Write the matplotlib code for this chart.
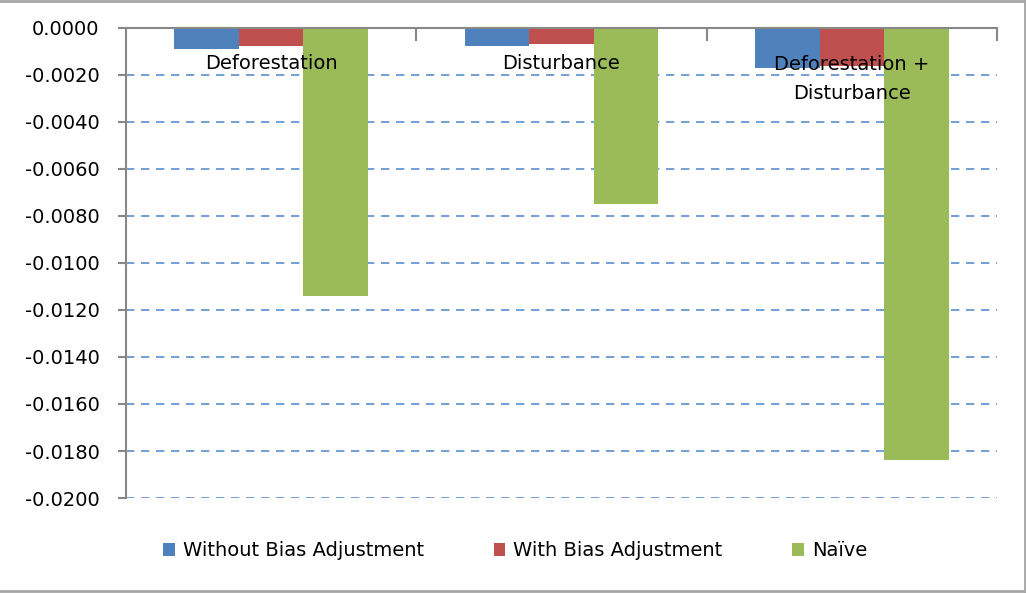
import numpy as np
import matplotlib.pyplot as plt
from matplotlib.lines import Line2D
from matplotlib.ticker import FuncFormatter

# values
categories = ["Deforestation", "Disturbance", "Deforestation +\nDisturbance"]
series_names = ["Without Bias Adjustment", "With Bias Adjustment", "Naïve"]
without_bias = [-0.0009, -0.00075, -0.0017]
with_bias = [-0.00075, -0.00067, -0.0016]
naive = [-0.0114, -0.0075, -0.0184]
colors = ["#4F81BD", "#C0504D", "#9BBB59"]
yticks = np.arange(-0.02, 0.0001, 0.002)

fig = plt.figure(figsize=(10.26, 5.93), dpi=100)
ax = fig.add_axes([0.1228, 0.1602, 0.8489, 0.7926])

x = np.arange(len(categories))
w = 1 / 4.5  # excel gap width 150%
for i, (vals, name) in enumerate(zip([without_bias, with_bias, naive], series_names)):
    ax.bar(x + (i - 1) * w, vals, w, color=colors[i], label=name, zorder=3)

ax.set_xlim(-0.5, 2.5)
ax.set_ylim(-0.02, 0)
ax.set_yticks(yticks)
ax.yaxis.set_major_formatter(FuncFormatter(lambda v, p: f"{v:.4f}" if abs(v) > 1e-9 else "0.0000"))
ax.tick_params(axis="y", direction="out", length=6, color="#888888", width=1.5,
               labelsize=14, pad=13)

# dashed gridlines (the zero line is the category axis)
for t in yticks[:-1]:
    ax.axhline(t, color="#5B8FD0", lw=1.2, ls=(0, (5, 4)), zorder=1)

# category axis sits at zero, on top
ax.xaxis.tick_top()
ax.set_xticks([0.5, 1.5, 2.5])
ax.set_xticklabels([])
ax.tick_params(axis="x", direction="in", length=9, color="#888888", width=1.5)
for s in ["right", "bottom"]:
    ax.spines[s].set_visible(False)
for s in ["left", "top"]:
    ax.spines[s].set_color("#888888")
    ax.spines[s].set_linewidth(1.5)
ax.spines["top"].set_zorder(4)

for xi, lab in zip(x, categories):
    if "\n" in lab:
        ax.text(xi, -0.00149 + 0.00036, lab, ha="center", va="top", fontsize=14,
                linespacing=1.7, zorder=5)
    else:
        ax.text(xi, -0.00149, lab, ha="center", va="center", fontsize=14, zorder=5)

fig.legend(loc="center", bbox_to_anchor=(0.502, 0.071), ncol=3, frameon=False,
           fontsize=14, handlelength=0.6, handleheight=0.6, handletextpad=0.4,
           columnspacing=3.6)

# chart frame (top, bottom, right)
for xs, ys in [([0, 1], [0.998, 0.998]), ([0, 1], [0.003, 0.003]), ([0.9995, 0.9995], [0, 1])]:
    fig.add_artist(Line2D(xs, ys, transform=fig.transFigure, color="#A6A6A6", lw=2))

fig.savefig("out.png", dpi=100)
